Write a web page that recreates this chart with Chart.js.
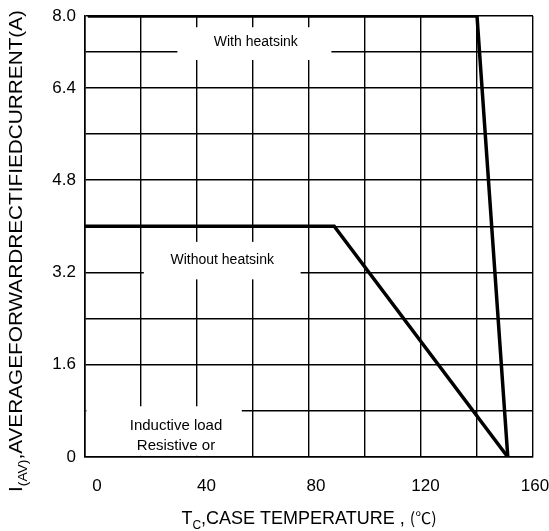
<!DOCTYPE html>
<html>
<head>
<meta charset="utf-8">
<script src="https://cdn.jsdelivr.net/npm/chart.js@4.4.1/dist/chart.umd.min.js"></script>
<style>
  html, body { margin: 0; padding: 0; background: #fff; }
  #wrap { width: 549px; height: 531px; }
</style>
</head>
<body>
<div id="wrap"><canvas id="derating"></canvas></div>
<script>
// Data
const xTicks = [0, 20, 40, 60, 80, 100, 120, 140, 160];
const xTickLabels = ['0', '', '40', '', '80', '', '120', '', '160'];
const yTicks = [0, 0.8, 1.6, 2.4, 3.2, 4.0, 4.8, 5.6, 6.4, 7.2, 8.0];
const yTickLabels = ['0', '', '1.6', '', '3.2', '', '4.8', '', '6.4', '', '8.0'];

const withSinkTemp = [1, 140, 151];
const withSinkAmps = [8.0, 8.0, 0];
const noSinkTemp = [0, 89, 151];
const noSinkAmps = [4.0, 4.0, 0];

const FONT = "'Liberation Sans', Arial, sans-serif";

// The sheet squeezes the top two rows (6.4 -> 8.0) of the grid
const SPLIT = 6.4;
const SPLIT_FRAC = 0.837;
class SqueezedScale extends Chart.LinearScale {
  getPixelForValue(v) {
    const d = v <= SPLIT
      ? (v - this.min) / (SPLIT - this.min) * SPLIT_FRAC
      : SPLIT_FRAC + (v - SPLIT) / (this.max - SPLIT) * (1 - SPLIT_FRAC);
    return this.getPixelForDecimal(d);
  }
  getValueForPixel(p) {
    const d = this.getDecimalForPixel(p);
    return d <= SPLIT_FRAC
      ? this.min + d / SPLIT_FRAC * (SPLIT - this.min)
      : SPLIT + (d - SPLIT_FRAC) / (1 - SPLIT_FRAC) * (this.max - SPLIT);
  }
}
SqueezedScale.id = 'squeezed';
SqueezedScale.defaults = Chart.LinearScale.defaults;
Chart.register(SqueezedScale);

function toPoints(xs, ys) {
  return xs.map((x, i) => ({ x, y: ys[i] }));
}

// white label boxes sitting on the grid (box: x0, x1, yTop, yBottom in data units)
const notes = [
  { lines: ['With heatsink'], box: [33, 88, 7.75, 7.02], at: [61, 7.41], size: 14 },
  { lines: ['Without heatsink'], box: [21, 77, 3.73, 3.08], at: [49, 3.41], size: 14 },
  { lines: ['Inductive load', 'Resistive or'], box: [0.5, 56, 0.88, 0.02], at: [32.5, 0.54], size: 15, gap: 0.34 }
];

function drawRuns(ctx, runs, cx, cy, angle, span) {
  ctx.save();
  ctx.translate(cx, cy);
  ctx.rotate(angle);
  let total = 0;
  runs.forEach(r => { ctx.font = r.font; r.w = ctx.measureText(r.t).width; total += r.w; });
  if (span) ctx.scale(span / total, 1);
  let x = -total / 2;
  ctx.textAlign = 'left';
  ctx.textBaseline = 'alphabetic';
  ctx.fillStyle = '#000';
  runs.forEach(r => { ctx.font = r.font; ctx.fillText(r.t, x, r.dy || 0); x += r.w; });
  ctx.restore();
}

const sheetDecor = {
  id: 'sheetDecor',
  beforeDatasetsDraw(chart) {
    const { ctx, scales: { x, y } } = chart;
    ctx.save();
    notes.forEach(n => {
      const x0 = x.getPixelForValue(n.box[0]);
      const x1 = x.getPixelForValue(n.box[1]);
      const y0 = y.getPixelForValue(n.box[2]);
      const y1 = y.getPixelForValue(n.box[3]);
      ctx.fillStyle = '#fff';
      ctx.fillRect(x0, y0, x1 - x0, y1 - y0);
      ctx.fillStyle = '#000';
      ctx.font = `${n.size}px ${FONT}`;
      ctx.textAlign = 'center';
      ctx.textBaseline = 'middle';
      n.lines.forEach((t, i) => {
        ctx.fillText(t, x.getPixelForValue(n.at[0]), y.getPixelForValue(n.at[1] - i * (n.gap || 0)));
      });
    });

    // x tick labels: on the sheet they sit right of their grid lines, drifting back toward 160
    ctx.fillStyle = '#000';
    ctx.font = `17px ${FONT}`;
    ctx.textAlign = 'center';
    ctx.textBaseline = 'middle';
    xTicks.forEach((v, i) => {
      if (!xTickLabels[i]) return;
      const shift = 12 - 10 * (v - x.min) / (x.max - x.min);
      ctx.fillText(xTickLabels[i], x.getPixelForValue(v) + shift, x.top + 29);
    });
    ctx.restore();
  },
  afterDraw(chart) {
    const ctx = chart.ctx;
    drawRuns(ctx, [
      { t: 'I', font: `18px ${FONT}` },
      { t: '(AV)', font: `12px ${FONT}`, dy: 5 },
      { t: ',AVERAGEFORWARDRECTIFIEDCURRENT(A)', font: `18px ${FONT}` }
    ], 22, 251, -Math.PI / 2, 482);
    drawRuns(ctx, [
      { t: 'T', font: `18px ${FONT}` },
      { t: 'C', font: `12px ${FONT}`, dy: 5 },
      { t: ',CASE TEMPERATURE , ', font: `18px ${FONT}` },
      { t: '(℃)', font: "16px 'Noto Sans CJK SC', sans-serif" }
    ], 309, 524, 0);
  }
};

new Chart(document.getElementById('derating'), {
  type: 'line',
  data: {
    datasets: [
      {
        label: 'With heatsink',
        data: toPoints(withSinkTemp, withSinkAmps),
        borderColor: '#000',
        borderWidth: 3.5,
        pointRadius: 0,
        tension: 0,
        fill: false
      },
      {
        label: 'Without heatsink',
        data: toPoints(noSinkTemp, noSinkAmps),
        borderColor: '#000',
        borderWidth: 3.5,
        pointRadius: 0,
        tension: 0,
        fill: false
      }
    ]
  },
  options: {
    responsive: true,
    maintainAspectRatio: false,
    animation: false,
    layout: { padding: { top: 16, right: 16, left: 0, bottom: 0 } },
    plugins: {
      legend: { display: false },
      tooltip: { enabled: false }
    },
    scales: {
      x: {
        type: 'linear',
        min: 0,
        max: 160,
        afterBuildTicks: s => { s.ticks = xTicks.map(v => ({ value: v })); },
        afterFit: s => { s.height = 74; s.paddingLeft = 0; s.paddingRight = 0; },
        grid: { color: '#000', lineWidth: 1.4, drawTicks: false },
        border: { color: '#000', width: 1.6 },
        ticks: { display: false }
      },
      y: {
        type: 'squeezed',
        min: 0,
        max: 8.0,
        afterBuildTicks: s => { s.ticks = yTicks.map(v => ({ value: v })); },
        afterFit: s => { s.width = 85; s.paddingTop = 0; s.paddingBottom = 0; },
        grid: { color: '#000', lineWidth: 1.4, drawTicks: false },
        border: { color: '#000', width: 1.6 },
        ticks: {
          autoSkip: false,
          padding: 9,
          color: '#000',
          font: { family: FONT, size: 17 },
          callback: (v, i) => yTickLabels[i]
        }
      }
    }
  },
  plugins: [sheetDecor]
});
</script>
</body>
</html>
